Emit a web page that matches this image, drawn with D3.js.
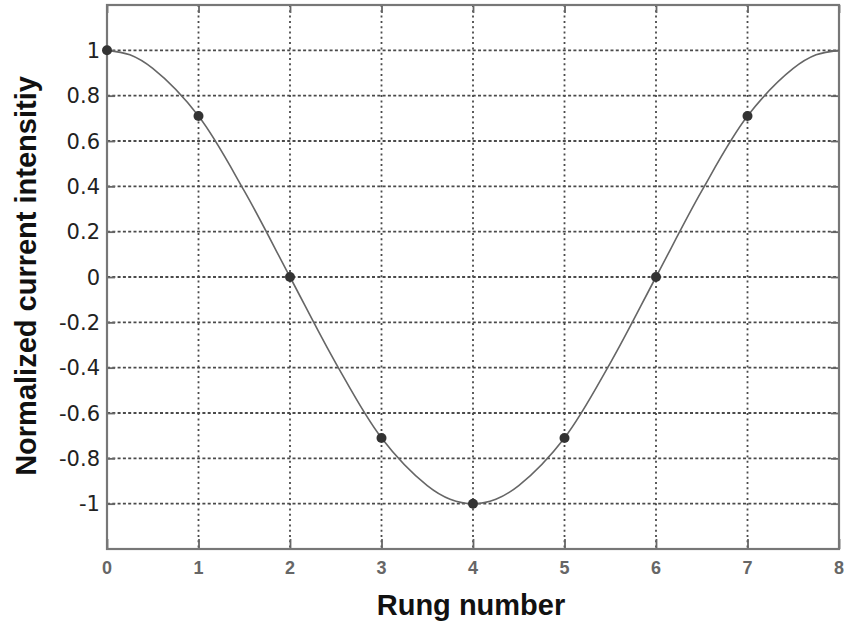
<!DOCTYPE html>
<html>
<head>
<meta charset="utf-8">
<script src="https://cdn.jsdelivr.net/npm/d3@7"></script>
<style>
  body { margin: 0; background: #fff; }
  svg { display: block; }
</style>
</head>
<body>
<div id="chart"></div>
<script>
// DATA
//////////////////////////////
// sampled rungs (dots)
var rungs = [0, 1, 2, 3, 4, 5, 6, 7];
var intensity = [1, 0.71, 0, -0.71, -1, -0.71, 0, 0.71];

// smooth curve (half rungs, quarter rungs near the flat parts)
var curveX = [0, 0.25, 0.5, 1, 1.5, 2, 2.5, 3, 3.5, 3.75, 4, 4.25, 4.5, 5, 5.5, 6, 6.5, 7, 7.5, 7.75, 8];
var curveY = [1, 0.98, 0.92, 0.71, 0.38, 0, -0.38, -0.71, -0.92, -0.98, -1, -0.98, -0.92, -0.71, -0.38, 0, 0.38, 0.71, 0.92, 0.98, 1];

// ticks
var xTicks = [0, 1, 2, 3, 4, 5, 6, 7, 8];
var yTicks = [1, 0.8, 0.6, 0.4, 0.2, 0, -0.2, -0.4, -0.6, -0.8, -1];
var yTickLabels = ['1', '0.8', '0.6', '0.4', '0.2', '0', '-0.2', '-0.4', '-0.6', '-0.8', '-1'];

var xLabel = 'Rung number';
var yLabel = 'Normalized current intensitiy';

// SETUP
//////////////////////////////
var width = 844,
    height = 623;
var plot = { left: 107, right: 839, top: 5, bottom: 549 };

var svg = d3.select('#chart').append('svg')
    .attr('width', width)
    .attr('height', height);

var x = d3.scaleLinear().domain([0, 8]).range([plot.left, plot.right]);
var y = d3.scaleLinear().domain([-1.2, 1.2]).range([plot.bottom, plot.top]);

// GRID (dotted)
svg.append('g')
  .attr('class', 'grid')
  .selectAll('line')
  .data(xTicks.slice(1, -1))
  .enter().append('line')
    .attr('x1', function(d) { return x(d); })
    .attr('x2', function(d) { return x(d); })
    .attr('y1', plot.top)
    .attr('y2', plot.bottom)
    .attr('stroke', '#4a4a4a')
    .attr('stroke-width', 1.8)
    .attr('stroke-dasharray', '2,3.3');

svg.append('g')
  .attr('class', 'grid')
  .selectAll('line')
  .data(yTicks)
  .enter().append('line')
    .attr('x1', plot.left)
    .attr('x2', plot.right)
    .attr('y1', function(d) { return y(d); })
    .attr('y2', function(d) { return y(d); })
    .attr('stroke', '#4a4a4a')
    .attr('stroke-width', 1.8)
    .attr('stroke-dasharray', '3,2.3');

// AXES (ticks pointing inward, labels drawn separately)
var bottomAxis = d3.axisBottom(x).tickValues(xTicks).tickSize(-10).tickFormat('');
var topAxis = d3.axisTop(x).tickValues(xTicks).tickSize(-8).tickFormat('');
var leftAxis = d3.axisLeft(y).tickValues(yTicks).tickSize(-8).tickFormat('');
var rightAxis = d3.axisRight(y).tickValues(yTicks).tickSize(-8).tickFormat('');

[[bottomAxis, 'translate(0,' + plot.bottom + ')'],
 [topAxis, 'translate(0,' + plot.top + ')'],
 [leftAxis, 'translate(' + plot.left + ',0)'],
 [rightAxis, 'translate(' + plot.right + ',0)']].forEach(function(a) {
  var g = svg.append('g').attr('transform', a[1]).call(a[0]);
  g.select('.domain').remove();
  g.selectAll('line').attr('stroke', '#666').attr('stroke-width', 1.8);
});

// frame
svg.append('rect')
    .attr('x', plot.left)
    .attr('y', plot.top)
    .attr('width', plot.right - plot.left)
    .attr('height', plot.bottom - plot.top)
    .attr('fill', 'none')
    .attr('stroke', '#777')
    .attr('stroke-width', 2.2);

// tick labels
svg.append('g')
  .selectAll('text')
  .data(xTicks)
  .enter().append('text')
    .attr('x', function(d) { return x(d); })
    .attr('y', 574)
    .attr('text-anchor', 'middle')
    .style('font-family', 'Liberation Sans, Arial, sans-serif')
    .style('font-weight', 'bold')
    .style('font-size', '18px')
    .style('fill', '#666')
    .text(function(d) { return d; });

svg.append('g')
  .selectAll('text')
  .data(yTicks)
  .enter().append('text')
    .attr('x', 100)
    .attr('y', function(d) { return y(d); })
    .attr('dy', '0.36em')
    .attr('text-anchor', 'end')
    .style('font-family', 'DejaVu Sans, Verdana, sans-serif')
    .style('font-size', '21px')
    .style('fill', '#222')
    .text(function(d, i) { return yTickLabels[i]; });

// axis titles
svg.append('text')
    .attr('x', 471)
    .attr('y', 615)
    .attr('text-anchor', 'middle')
    .style('font-family', 'Liberation Sans, Arial, sans-serif')
    .style('font-weight', 'bold')
    .style('font-size', '29px')
    .style('fill', '#111')
    .text(xLabel);

svg.append('text')
    .attr('transform', 'translate(36,276) rotate(-90)')
    .attr('text-anchor', 'middle')
    .style('font-family', 'Liberation Sans, Arial, sans-serif')
    .style('font-weight', 'bold')
    .style('font-size', '29px')
    .style('fill', '#111')
    .text(yLabel);

// CURVE
var line = d3.line()
    .x(function(d, i) { return x(curveX[i]); })
    .y(function(d) { return y(d); })
    .curve(d3.curveCatmullRom);

svg.append('path')
    .datum(curveY)
    .attr('d', line)
    .attr('fill', 'none')
    .attr('stroke', '#666')
    .attr('stroke-width', 1.6);

// DOTS
svg.append('g')
  .selectAll('circle')
  .data(rungs)
  .enter().append('circle')
    .attr('cx', function(d) { return x(d); })
    .attr('cy', function(d, i) { return y(intensity[i]); })
    .attr('r', 5)
    .attr('fill', '#333');
</script>
</body>
</html>
